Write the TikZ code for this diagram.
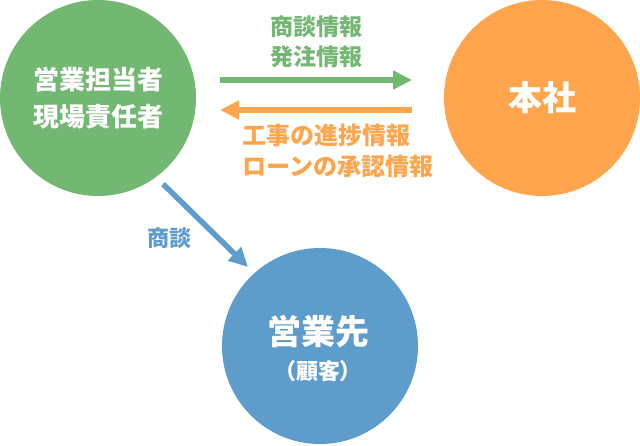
\documentclass[tikz,border=0pt]{standalone}
\usepackage{fontspec}
\newfontfamily\jp{Noto Sans CJK JP}
\newfontfamily\jpp{Noto Sans CJK JP}[RawFeature=+palt]
\usetikzlibrary{arrows.meta}
\definecolor{cg}{HTML}{72B772}
\definecolor{co}{HTML}{FFA54E}
\definecolor{cb}{HTML}{5E9CCC}
\tikzset{
  circ/.style={circle, minimum size=196pt, inner sep=0pt, text=white, align=center, font=\jp\bfseries},
  conn/.style={line width=5.5pt, -{Triangle[length=19pt,width=18pt]}},
  lbl/.style={font=\jp\bfseries\fontsize{23}{29.5}\selectfont, inner sep=0pt}
}
\begin{document}
\begin{tikzpicture}[x=1pt,y=-1pt]
\useasboundingbox (0,0) rectangle (640,445);
\node[circ, fill=cg, font=\jp\bfseries\fontsize{26}{36.5}\selectfont] (gr) at (98,98) {営業担当者\\現場責任者};
\node[circ, fill=co, font=\jp\bfseries\fontsize{34}{40}\selectfont] (hq) at (542,98) {本社};
\node[circ, fill=cb] (cu) at (320,346) {};
\node[text=white, font=\jp\bfseries\fontsize{34}{40}\selectfont, inner sep=0pt] (cu1) at (318,332) {営業先};
\node[text=white, font=\jpp\bfseries\fontsize{22}{24}\selectfont, inner sep=0pt] (cu2) at (318,371) {（顧客）};
\coordinate (g1) at (220,80);
\coordinate (g2) at (412,80);
\coordinate (o1) at (412,110);
\coordinate (o2) at (220,110);
\coordinate (b1) at (163,184);
\coordinate (b2) at (248,267);
\draw[conn, cg] (g1) -- (g2);
\draw[conn, co] (o1) -- (o2);
\draw[conn, cb] (b1) -- (b2);
\node[lbl, text=cg, align=center] (gl) at (316,42) {商談情報\\発注情報};
\node[lbl, text=co, align=left, anchor=west, font=\jp\bfseries\fontsize{24}{31}\selectfont] (ol) at (242,151) {工事の進捗情報\\ローンの承認情報};
\node[lbl, text=cb, font=\jp\bfseries\fontsize{22}{26}\selectfont] (bl) at (169,238) {商談};
\end{tikzpicture}
\end{document}
